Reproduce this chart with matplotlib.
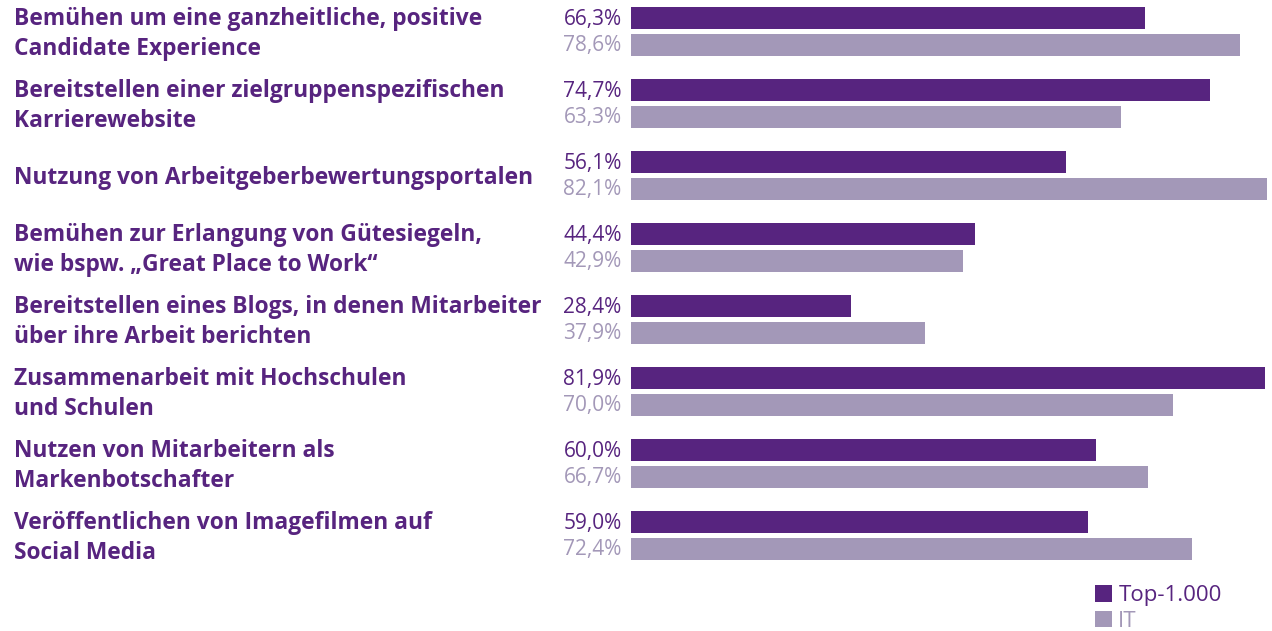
import matplotlib
matplotlib.use('Agg')
import matplotlib.pyplot as plt
from matplotlib.patches import Patch

# Data
categories = [
    "Bemühen um eine ganzheitliche, positive\nCandidate Experience",
    "Bereitstellen einer zielgruppenspezifischen\nKarrierewebsite",
    "Nutzung von Arbeitgeberbewertungsportalen",
    "Bemühen zur Erlangung von Gütesiegeln,\nwie bspw. „Great Place to Work“",
    "Bereitstellen eines Blogs, in denen Mitarbeiter\nüber ihre Arbeit berichten",
    "Zusammenarbeit mit Hochschulen\nund Schulen",
    "Nutzen von Mitarbeitern als\nMarkenbotschafter",
    "Veröffentlichen von Imagefilmen auf\nSocial Media",
]
top1000 = [66.3, 74.7, 56.1, 44.4, 28.4, 81.9, 60.0, 59.0]
it = [78.6, 63.3, 82.1, 42.9, 37.9, 70.0, 66.7, 72.4]
series_names = ["Top-1.000", "IT"]

DARK = '#57247f'
LIGHT = '#a398b8'
W, H = 1272, 631

plt.rcParams['font.family'] = ['Open Sans', 'DejaVu Sans']

fig = plt.figure(figsize=(W / 100, H / 100), dpi=100)
fig.patch.set_facecolor('white')

# full-figure axes in pixel coordinates for the category labels
tax = fig.add_axes([0, 0, 1, 1])
tax.set_xlim(0, W)
tax.set_ylim(H, 0)
tax.axis('off')

# bar axes: x from 631 px to 1267 px
bx0, bx1 = 631, 1267
ax = fig.add_axes([bx0 / W, 0, (bx1 - bx0) / W, 1])
ax.set_xlim(0, max(top1000 + it))
ax.set_ylim(H, 0)
ax.axis('off')

step = 72
bar_h = 22
for i, (cat, a, b) in enumerate(zip(categories, top1000, it)):
    y1 = 18 + i * step
    y2 = 45 + i * step
    ax.barh(y1, a, height=bar_h, color=DARK, left=0)
    ax.barh(y2, b, height=bar_h, color=LIGHT, left=0)
    ax.text(-1.2, y1 + 1, f"{a:.1f}%".replace('.', ','), ha='right', va='center',
            fontsize=15, color=DARK, fontweight='medium')
    ax.text(-1.2, y2 + 1, f"{b:.1f}%".replace('.', ','), ha='right', va='center',
            fontsize=15, color=LIGHT)
    tax.text(14, (y1 + y2) / 2 + 2.5, cat, ha='left', va='center', fontsize=16.4,
             fontweight='bold', color=DARK, linespacing=1.35)

handles = [Patch(facecolor=DARK, edgecolor='none'),
           Patch(facecolor=LIGHT, edgecolor='none')]
leg = fig.legend(handles, series_names, loc='lower left',
                 bbox_to_anchor=(1075 / W, -0.033), frameon=False,
                 fontsize=16, handlelength=0.75, handleheight=0.75,
                 handletextpad=0.3, labelspacing=0.2)
for t, c in zip(leg.get_texts(), [DARK, LIGHT]):
    t.set_color(c)

fig.savefig('out.png', dpi=100)
